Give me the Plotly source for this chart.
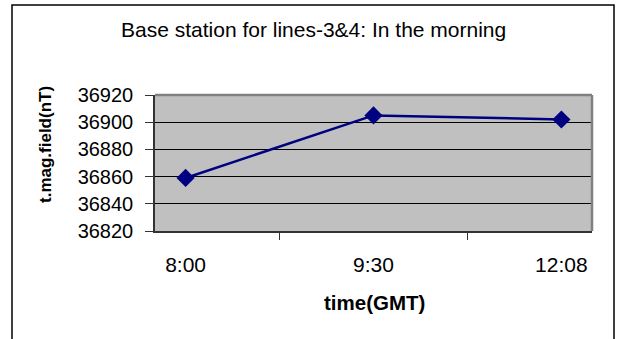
import plotly.graph_objects as go

times = ["8:00", "9:30", "12:08"]
field_nT = [36859, 36905, 36902]
y_ticks = [36820, 36840, 36860, 36880, 36900, 36920]
y_tick_labels = [str(v) for v in y_ticks]

W, H = 621, 339
L, R, T, B = 155, 592, 95, 231  # plot area in pixels

def px(x):
    return (x - L) / (R - L)

def py(y):
    return (B - y) / (B - T)

fig = go.Figure()
fig.add_trace(go.Scatter(
    x=times, y=field_nT, mode="lines+markers",
    line=dict(color="#000080", width=2.5),
    marker=dict(symbol="diamond", size=14, color="#000080"),
    showlegend=False,
))

fig.update_layout(
    width=W, height=H,
    margin=dict(l=L, r=W - R, t=T, b=H - B),
    paper_bgcolor="white",
    plot_bgcolor="#C0C0C0",
    font=dict(family="Liberation Sans, Arial, sans-serif", color="black"),
    xaxis=dict(
        type="category", tickson="boundaries", ticks="outside", ticklen=7,
        tickcolor="#333333", showline=True, linecolor="#333333", linewidth=1.5,
        showgrid=False, tickfont=dict(size=21), ticklabelstandoff=14,
        fixedrange=True,
    ),
    yaxis=dict(
        range=[36820, 36920], tickvals=y_ticks, ticktext=y_tick_labels,
        ticks="outside", ticklen=8,
        tickcolor="#333333", showline=True, linecolor="#333333", linewidth=1.5,
        showgrid=True, gridcolor="black", gridwidth=1, zeroline=False,
        tickfont=dict(size=20), ticklabelstandoff=8, fixedrange=True,
    ),
    shapes=[
        # outer chart frame
        dict(type="rect", xref="paper", yref="paper",
             x0=px(12), x1=px(614), y0=py(360), y1=py(5),
             line=dict(color="black", width=1.5), layer="below"),
        # gray plot-area border (top and right)
        dict(type="line", xref="paper", yref="paper", x0=0, x1=1, y0=1, y1=1,
             line=dict(color="#808080", width=2.5)),
        dict(type="line", xref="paper", yref="paper", x0=1, x1=1, y0=0, y1=1,
             line=dict(color="#808080", width=2.5)),
    ],
    annotations=[
        dict(text="Base station for lines-3&4: In the morning", xref="paper", yref="paper",
             x=px(313), y=py(30), showarrow=False, font=dict(size=21),
             xanchor="center", yanchor="middle"),
        dict(text="<b>time(GMT)</b>", xref="paper", yref="paper",
             x=px(374), y=py(302), showarrow=False, font=dict(size=20.5),
             xanchor="center", yanchor="middle"),
        dict(text="<b>t.mag.field(nT)</b>", xref="paper", yref="paper",
             x=px(45), y=py(144), showarrow=False, font=dict(size=17),
             textangle=-90, xanchor="center", yanchor="middle"),
    ],
)

fig.write_html("out.html")
